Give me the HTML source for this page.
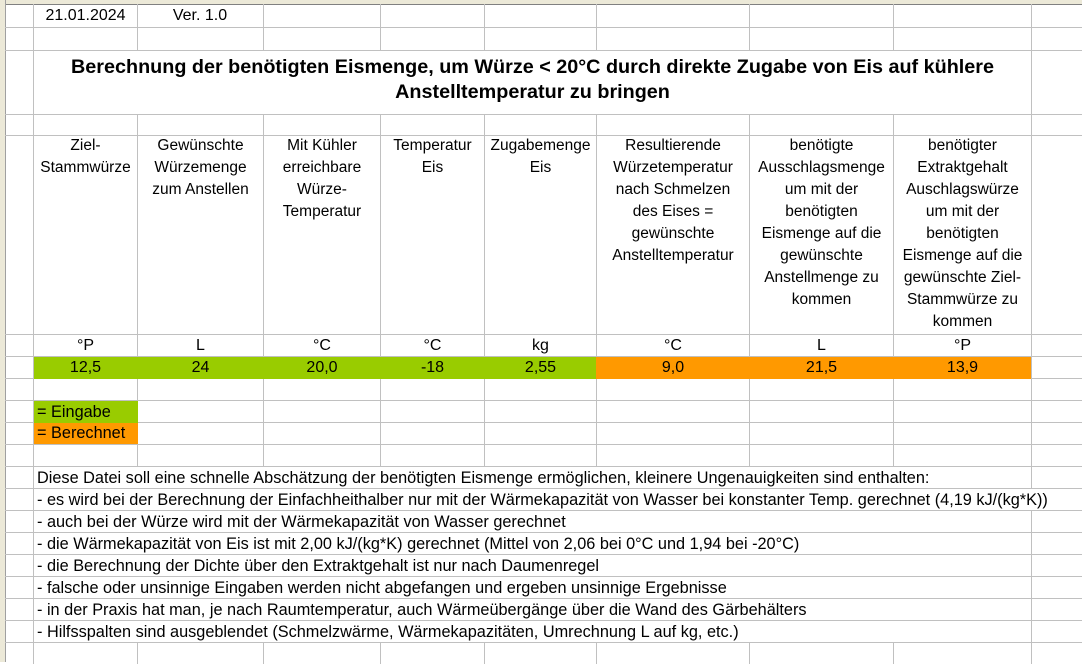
<!DOCTYPE html>
<html><head><meta charset="utf-8"><style>
body{margin:0;width:1082px;height:662px;overflow:hidden;background:#fff;font-family:"Liberation Sans",Arial,sans-serif;color:#000;position:relative}
.v{position:absolute;width:1px;background:#c0c0c0;top:4px;height:660px}
.h{position:absolute;height:1px;background:#c0c0c0;left:5px;width:1077px}
.b{position:absolute}
.c{position:absolute;text-align:center;font-size:15.5px;line-height:22px}
.t{position:absolute;left:37px;font-size:16.3px;line-height:22px;white-space:nowrap}
</style></head><body>
<div class="b" style="left:0;top:0;width:1082px;height:4px;background:#ece9d8;border-bottom:1px solid #808080"></div>
<div class="b" style="left:0;top:0;width:5px;height:662px;background:#ece9d8;border-right:1px solid #a0a0a0"></div>
<div class="v" style="left:33px"></div><div class="v" style="left:137px"></div><div class="v" style="left:263px"></div><div class="v" style="left:380px"></div><div class="v" style="left:484px"></div><div class="v" style="left:596px"></div><div class="v" style="left:749px"></div><div class="v" style="left:893px"></div><div class="v" style="left:1031px"></div>
<div class="h" style="top:27px"></div><div class="h" style="top:50px"></div><div class="h" style="top:114px"></div><div class="h" style="top:135px"></div><div class="h" style="top:334px"></div><div class="h" style="top:356px"></div><div class="h" style="top:378px"></div><div class="h" style="top:400px"></div><div class="h" style="top:422px"></div><div class="h" style="top:444px"></div><div class="h" style="top:466px"></div><div class="h" style="top:488px"></div><div class="h" style="top:510px"></div><div class="h" style="top:532px"></div><div class="h" style="top:554px"></div><div class="h" style="top:576px"></div><div class="h" style="top:598px"></div><div class="h" style="top:620px"></div><div class="h" style="top:642px"></div>
<div class="b" style="left:34px;top:51px;width:997px;height:63px;background:#fff"></div>
<div class="c" style="left:34px;top:55px;width:997px;font-size:19.8px;font-weight:bold;line-height:25px">Berechnung der benötigten Eismenge, um Würze &lt; 20°C durch direkte Zugabe von Eis auf kühlere<br>Anstelltemperatur zu bringen</div>
<div class="c" style="left:34px;top:5px;width:103px;font-size:16px">21.01.2024</div>
<div class="c" style="left:137px;top:5px;width:126px;font-size:16px">Ver. 1.0</div>
<div class="c" style="left:34px;top:135px;width:103px">Ziel-<br>Stammwürze</div>
<div class="c" style="left:138px;top:135px;width:125px">Gewünschte<br>Würzemenge<br>zum Anstellen</div>
<div class="c" style="left:264px;top:135px;width:116px">Mit Kühler<br>erreichbare<br>Würze-<br>Temperatur</div>
<div class="c" style="left:381px;top:135px;width:103px">Temperatur<br>Eis</div>
<div class="c" style="left:485px;top:135px;width:111px">Zugabemenge<br>Eis</div>
<div class="c" style="left:597px;top:135px;width:152px">Resultierende<br>Würzetemperatur<br>nach Schmelzen<br>des Eises =<br>gewünschte<br>Anstelltemperatur</div>
<div class="c" style="left:750px;top:135px;width:143px">benötigte<br>Ausschlagsmenge<br>um mit der<br>benötigten<br>Eismenge auf die<br>gewünschte<br>Anstellmenge zu<br>kommen</div>
<div class="c" style="left:894px;top:135px;width:137px">benötigter<br>Extraktgehalt<br>Auschlagswürze<br>um mit der<br>benötigten<br>Eismenge auf die<br>gewünschte Ziel-<br>Stammwürze zu<br>kommen</div>
<div class="c" style="left:34px;top:335px;width:103px;font-size:16px">°P</div>
<div class="c" style="left:138px;top:335px;width:125px;font-size:16px">L</div>
<div class="c" style="left:264px;top:335px;width:116px;font-size:16px">°C</div>
<div class="c" style="left:381px;top:335px;width:103px;font-size:16px">°C</div>
<div class="c" style="left:485px;top:335px;width:111px;font-size:16px">kg</div>
<div class="c" style="left:597px;top:335px;width:152px;font-size:16px">°C</div>
<div class="c" style="left:750px;top:335px;width:143px;font-size:16px">L</div>
<div class="c" style="left:894px;top:335px;width:137px;font-size:16px">°P</div>
<div class="b" style="left:34px;top:357px;width:562px;height:22px;background:#99cc00"></div>
<div class="b" style="left:596px;top:357px;width:435px;height:22px;background:#ff9900"></div>
<div class="c" style="left:34px;top:357px;width:103px;font-size:16px">12,5</div>
<div class="c" style="left:138px;top:357px;width:125px;font-size:16px">24</div>
<div class="c" style="left:264px;top:357px;width:116px;font-size:16px">20,0</div>
<div class="c" style="left:381px;top:357px;width:103px;font-size:16px">-18</div>
<div class="c" style="left:485px;top:357px;width:111px;font-size:16px">2,55</div>
<div class="c" style="left:597px;top:357px;width:152px;font-size:16px">9,0</div>
<div class="c" style="left:750px;top:357px;width:143px;font-size:16px">21,5</div>
<div class="c" style="left:894px;top:357px;width:137px;font-size:16px">13,9</div>
<div class="b" style="left:34px;top:401px;width:104px;height:22px;background:#99cc00"></div>
<div class="b" style="left:34px;top:423px;width:104px;height:21px;background:#ff9900"></div>
<div class="t" style="top:401px">= Eingabe</div>
<div class="t" style="top:422px">= Berechnet</div>
<div class="b" style="left:34px;top:467px;width:997px;height:175px;background:repeating-linear-gradient(to bottom,#fff 0,#fff 21px,#c0c0c0 21px,#c0c0c0 22px)"></div>
<div class="b" style="left:1031px;top:489px;width:1px;height:21px;background:#fff"></div>
<div class="t" style="top:467px">Diese Datei soll eine schnelle Abschätzung der benötigten Eismenge ermöglichen, kleinere Ungenauigkeiten sind enthalten:</div>
<div class="t" style="top:489px">- es wird bei der Berechnung der Einfachheithalber nur mit der Wärmekapazität von Wasser bei konstanter Temp. gerechnet (4,19 kJ/(kg*K))</div>
<div class="t" style="top:511px">- auch bei der Würze wird mit der Wärmekapazität von Wasser gerechnet</div>
<div class="t" style="top:533px">- die Wärmekapazität von Eis ist mit 2,00 kJ/(kg*K) gerechnet (Mittel von 2,06 bei 0°C und 1,94 bei -20°C)</div>
<div class="t" style="top:555px">- die Berechnung der Dichte über den Extraktgehalt ist nur nach Daumenregel</div>
<div class="t" style="top:577px">- falsche oder unsinnige Eingaben werden nicht abgefangen und ergeben unsinnige Ergebnisse</div>
<div class="t" style="top:599px">- in der Praxis hat man, je nach Raumtemperatur, auch Wärmeübergänge über die Wand des Gärbehälters</div>
<div class="t" style="top:621px">- Hilfsspalten sind ausgeblendet (Schmelzwärme, Wärmekapazitäten, Umrechnung L auf kg, etc.)</div>
</body></html>
